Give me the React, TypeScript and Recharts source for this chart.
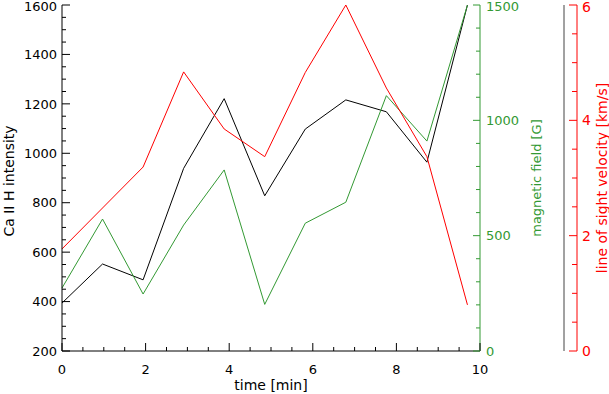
import React from 'react';
import { LineChart, Line, XAxis, YAxis } from 'recharts';

const times = [0, 0.97, 1.94, 2.91, 3.88, 4.85, 5.82, 6.79, 7.76, 8.73, 9.7];
const intensity = [394, 552, 488, 939, 1221, 828, 1098, 1216, 1168, 964, 1600];
const magField = [273, 572, 247, 546, 785, 202, 554, 645, 1107, 910, 1500];
const velocity = [1.77, 2.48, 3.19, 4.84, 3.85, 3.37, 4.83, 6.0, 4.56, 3.37, 0.8];

const xTicks = [0, 0.5, 1, 1.5, 2, 2.5, 3, 3.5, 4, 4.5, 5, 5.5, 6, 6.5, 7, 7.5, 8, 8.5, 9, 9.5, 10];
const intTicks = Array.from({ length: 29 }, (_, i) => 200 + i * 50);
const bTicks = Array.from({ length: 16 }, (_, i) => i * 100);
const vTicks = Array.from({ length: 13 }, (_, i) => i * 0.5);

const data = times.map((t, i) => ({ t, I: intensity[i], B: magField[i], V: velocity[i] }));

const FONT = 'DejaVu Sans';
const GREEN = '#339933';
const RED = '#ff0000';
const M = 10;

const isMult = (v: number, m: number) => Math.abs(v / m - Math.round(v / m)) < 1e-6;

const BottomTick = (p: any) => {
  const v = p.payload.value;
  const ay = p.y - M;
  const major = isMult(v, 2);
  return (
    <g>
      <line x1={p.x} x2={p.x} y1={ay} y2={ay - (major ? 8 : 4)} stroke="#000" />
      {major && (
        <text x={p.x} y={ay + 23} textAnchor="middle" fontFamily={FONT} fontSize={13} fill="#000">
          {v}
        </text>
      )}
    </g>
  );
};

const TopTick = (p: any) => {
  const v = p.payload.value;
  const ay = p.y + M;
  const major = isMult(v, 2);
  return <line x1={p.x} x2={p.x} y1={ay} y2={ay + (major ? 8 : 4)} stroke="#000" />;
};

const LeftTick = (p: any) => {
  const v = p.payload.value;
  const ax = p.x + M;
  const major = isMult(v, 200);
  const shift = v === 1600 ? 1.5 : 0;
  return (
    <g>
      <line x1={ax} x2={ax + (major ? 8 : 4)} y1={p.y} y2={p.y} stroke="#000" />
      {major && (
        <text x={ax - 5} y={p.y + shift} dy="0.36em" textAnchor="end" fontFamily={FONT} fontSize={13} fill="#000">
          {v}
        </text>
      )}
    </g>
  );
};

const RightBlackTick = (p: any) => {
  const v = p.payload.value;
  const ax = p.x - M;
  const major = isMult(v, 200);
  return <line x1={ax} x2={ax - (major ? 8 : 4)} y1={p.y} y2={p.y} stroke="#444" />;
};

const GreenTick = (p: any) => {
  const v = p.payload.value;
  const ax = p.x - M;
  const major = isMult(v, 500);
  const shift = v === 1500 ? 1.5 : 0;
  return (
    <g>
      <line x1={ax} x2={ax - (major ? 7 : 4)} y1={p.y} y2={p.y} stroke={GREEN} />
      {major && (
        <text x={ax + 6} y={p.y + shift} dy="0.36em" textAnchor="start" fontFamily={FONT} fontSize={13} fill={GREEN}>
          {v}
        </text>
      )}
    </g>
  );
};

const RedTick = (p: any) => {
  const v = p.payload.value;
  const ax = p.x - M;
  const major = isMult(v, 2);
  const shift = v === 6 ? 1.5 : 0;
  return (
    <g>
      <line x1={ax} x2={ax - (major ? 8 : 5)} y1={p.y} y2={p.y} stroke={RED} />
      {major && (
        <text x={ax + 5} y={p.y + shift} dy="0.36em" textAnchor="start" fontFamily={FONT} fontSize={14} fill={RED}>
          {v}
        </text>
      )}
    </g>
  );
};

const vTitle = (text: string, dx: number, color: string, size: number, dyc = 0) => (props: any) => {
  const vb = props.viewBox || {};
  const cx = vb.x + dx;
  const cy = vb.y + vb.height / 2 + dyc;
  return (
    <text
      x={cx}
      y={cy}
      transform={`rotate(-90 ${cx} ${cy})`}
      textAnchor="middle"
      dominantBaseline="central"
      fontFamily={FONT}
      fontSize={size}
      fill={color}
    >
      {text}
    </text>
  );
};

const bottomTitle = (props: any) => {
  const vb = props.viewBox || {};
  return (
    <text x={vb.x + vb.width / 2} y={390} textAnchor="middle" fontFamily={FONT} fontSize={14} fill="#000">
      time [min]
    </text>
  );
};

export default function App() {
  return (
    <div style={{ position: 'absolute', left: 0, top: 0, width: 609, height: 394, background: '#fff' }}>
      <LineChart width={609} height={394} data={data} margin={{ top: 5, right: 0, bottom: 0, left: 0 }}>
        <XAxis
          xAxisId="bottom"
          dataKey="t"
          type="number"
          domain={[0, 10]}
          ticks={xTicks}
          interval={0}
          height={43}
          tickSize={0}
          tickMargin={M}
          tick={BottomTick}
          axisLine={{ stroke: '#000' }}
          label={bottomTitle}
        />
        <XAxis
          xAxisId="top"
          orientation="top"
          dataKey="t"
          type="number"
          domain={[0, 10]}
          ticks={xTicks}
          interval={0}
          height={0}
          tickSize={0}
          tickMargin={M}
          tick={TopTick}
          axisLine={{ stroke: '#000' }}
        />
        <YAxis
          yAxisId="intensity"
          orientation="left"
          type="number"
          domain={[200, 1600]}
          ticks={intTicks}
          interval={0}
          width={62}
          tickSize={0}
          tickMargin={M}
          tick={LeftTick}
          axisLine={{ stroke: '#000' }}
          label={vTitle('Ca II H intensity', 9, '#000', 14, 3)}
        />
        <YAxis
          yAxisId="intensityRight"
          orientation="right"
          type="number"
          domain={[200, 1600]}
          ticks={intTicks}
          interval={0}
          width={13}
          tickSize={0}
          tickMargin={M}
          tick={RightBlackTick}
          axisLine={{ stroke: '#444' }}
        />
        <YAxis
          yAxisId="field"
          orientation="right"
          type="number"
          domain={[0, 1500]}
          ticks={bTicks}
          interval={0}
          width={84}
          tickSize={0}
          tickMargin={M}
          tick={GreenTick}
          axisLine={{ stroke: GREEN }}
          label={vTitle('magnetic field [G]', 56, GREEN, 13, 0)}
        />
        <YAxis
          yAxisId="velocity"
          orientation="right"
          type="number"
          domain={[0, 6]}
          ticks={vTicks}
          interval={0}
          width={32}
          tickSize={0}
          tickMargin={M}
          tick={RedTick}
          axisLine={{ stroke: RED }}
          label={vTitle('line of sight velocity [km/s]', 24.5, RED, 14, 0)}
        />
        <Line xAxisId="bottom" yAxisId="intensity" dataKey="I" stroke="#000" strokeWidth={1} dot={false} isAnimationActive={false} />
        <Line xAxisId="bottom" yAxisId="field" dataKey="B" stroke={GREEN} strokeWidth={1} dot={false} isAnimationActive={false} />
        <Line xAxisId="bottom" yAxisId="velocity" dataKey="V" stroke={RED} strokeWidth={1} dot={false} isAnimationActive={false} />
      </LineChart>
    </div>
  );
}
